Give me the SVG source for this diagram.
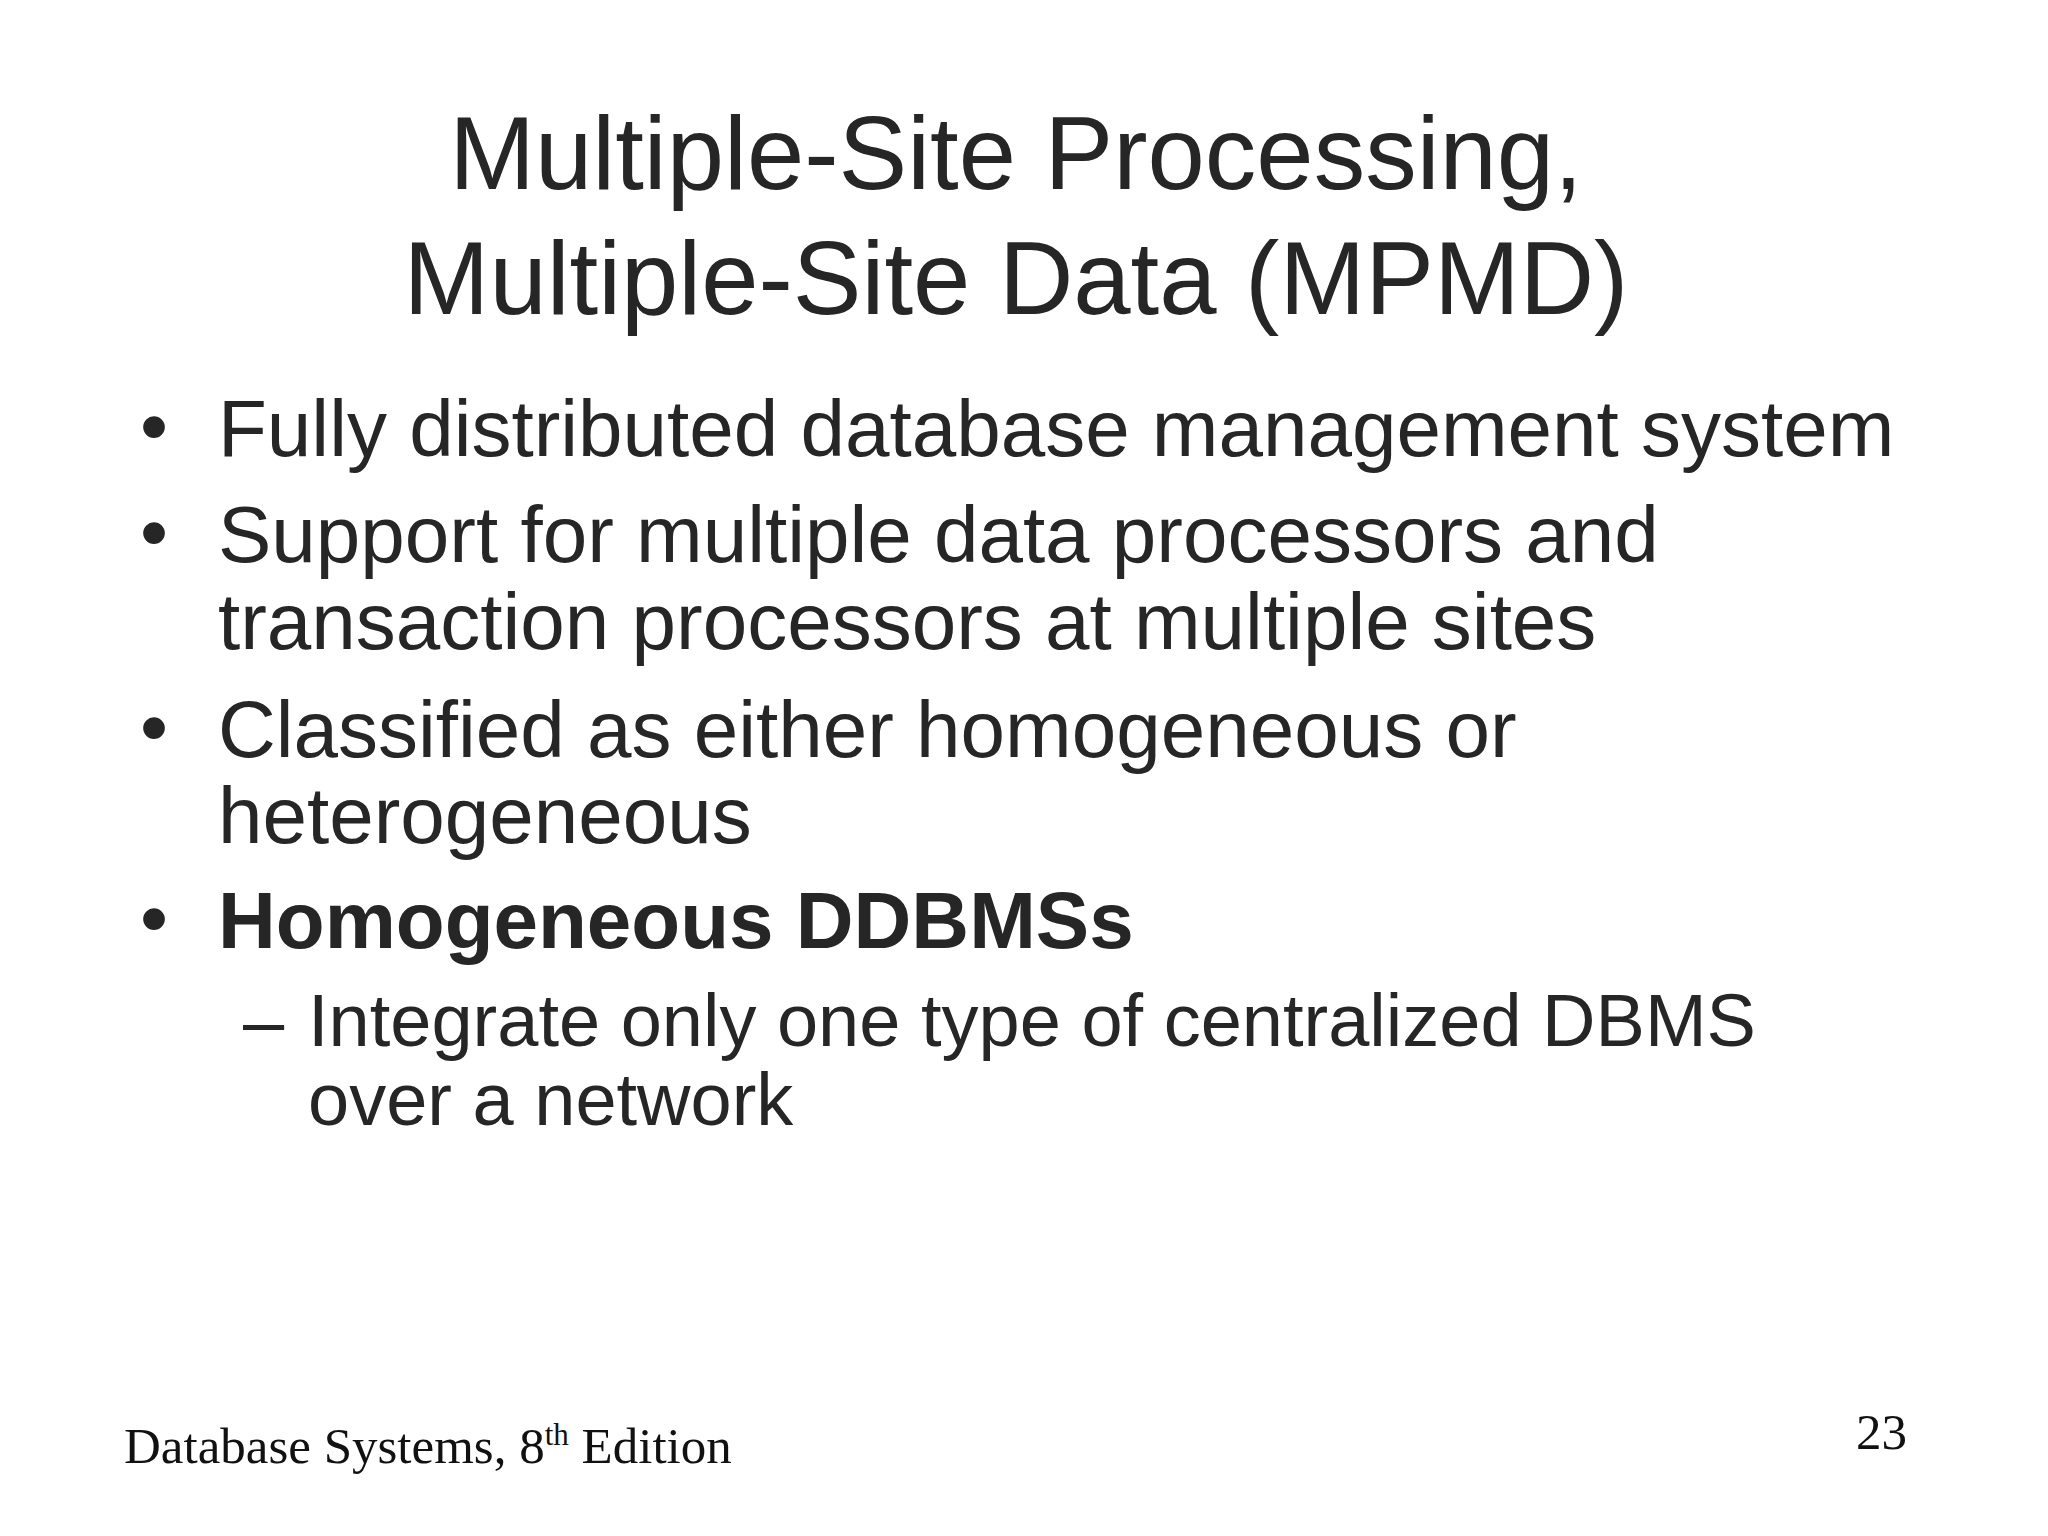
<svg xmlns="http://www.w3.org/2000/svg" width="2048" height="1536" viewBox="0 0 2048 1536">
<style>
.t{font-family:"Liberation Sans",Arial,sans-serif;fill:#262626}
.b{font-size:80px}
.f{font-family:"Liberation Serif","Times New Roman",serif;fill:#111;font-size:51px}
</style>
<rect width="2048" height="1536" fill="#fff"/>
<g id="title">
<text class="t" x="1016" y="189" font-size="103" text-anchor="middle">Multiple-Site Processing,</text>
<text class="t" x="1016" y="314" font-size="103" text-anchor="middle">Multiple-Site Data (MPMD)</text>
</g>
<g id="bullets">
<text class="t b" x="140" y="454">•</text>
<text class="t b" x="218" y="456">Fully distributed database management system</text>
<text class="t b" x="140" y="560">•</text>
<text class="t b" x="218" y="562">Support for multiple data processors and</text>
<text class="t b" x="218" y="649">transaction processors at multiple sites</text>
<text class="t b" x="140" y="755">•</text>
<text class="t b" x="218" y="757">Classified as either homogeneous or</text>
<text class="t b" x="218" y="843">heterogeneous</text>
<text class="t b" x="140" y="946">•</text>
<text class="t b" x="218" y="948" font-weight="bold">Homogeneous DDBMSs</text>
<text class="t" x="243" y="1046" font-size="74">–</text>
<text class="t" x="308" y="1046" font-size="74">Integrate only one type of centralized DBMS</text>
<text class="t" x="308" y="1125" font-size="74">over a network</text>
</g>
<g id="footer">
<text class="f" x="124" y="1463">Database Systems, 8<tspan font-size="31" dy="-18">th</tspan><tspan dy="18"> Edition</tspan></text>
<text class="f" x="1907" y="1449" text-anchor="end">23</text>
</g>
</svg>
